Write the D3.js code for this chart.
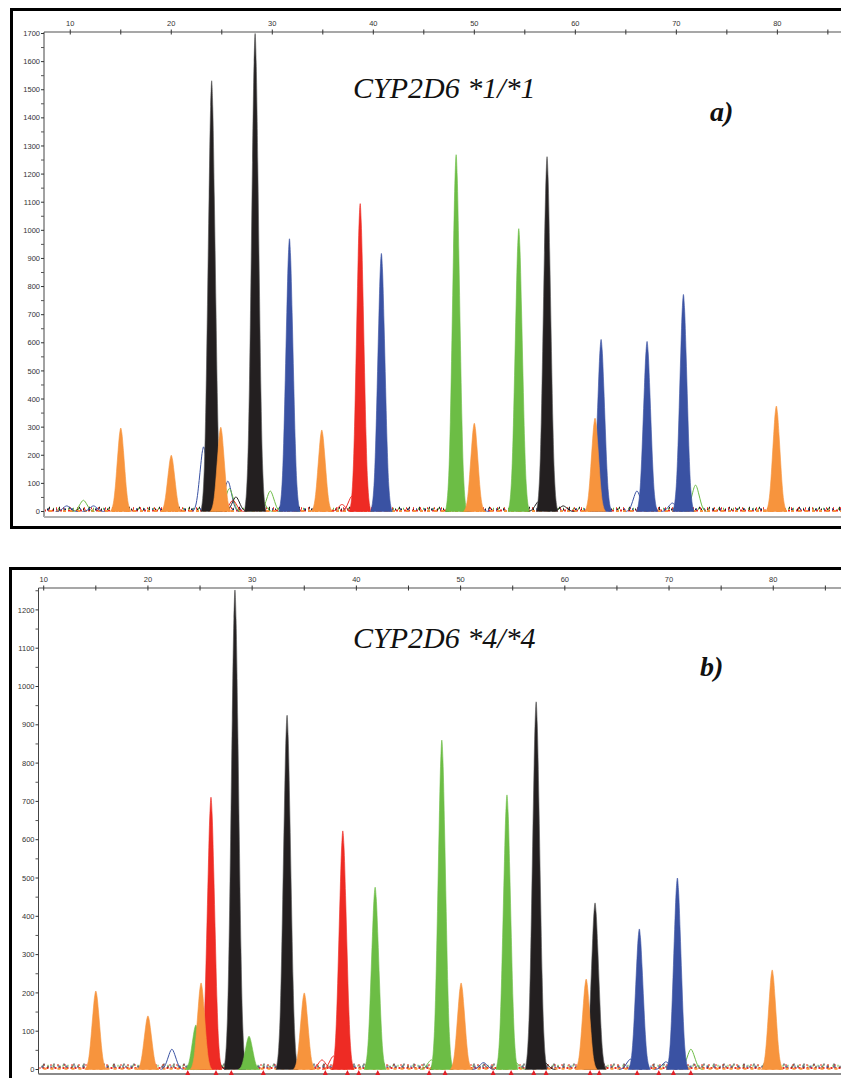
<!DOCTYPE html>
<html>
<head>
<meta charset="utf-8">
<script src="https://cdn.jsdelivr.net/npm/d3@7"></script>
<style>
  body { margin: 0; background: #fff; }
  svg { display: block; }
</style>
</head>
<body>
<div id="chart"></div>
<script>
// ---- data (fragment size in bp, peak height in RFU) ----
const sizeTicks = [10, 20, 30, 40, 50, 60, 70, 80];

// panel a) CYP2D6 *1/*1 - filled peaks
const peakPosA    = [15.0, 20.0, 24.0, 24.9, 28.3, 31.7, 34.9, 38.7, 40.8, 48.2, 50.0, 54.4, 57.2, 61.95, 62.55, 67.1, 70.7, 79.9];
const peakHeightA = [297, 200, 1532, 300, 1700, 970, 290, 1095, 918, 1269, 314, 1006, 1262, 332, 612, 605, 772, 375];
const peakDyeA    = ["orange", "orange", "black", "orange", "black", "blue", "orange", "red", "blue", "green", "orange", "green", "black", "orange", "blue", "blue", "blue", "orange"];
// panel a) small unfilled peaks
const minorPosA    = [9.65, 11.3, 12.3, 23.2, 25.6, 25.75, 26.1, 26.4, 28.95, 29.8, 31.6, 36.9, 37.9, 40.8, 48.2, 48.3, 50.4, 56.4, 58.8, 66.1, 69.6, 71.9];
const minorHeightA = [20, 40, 20, 230, 108, 82, 40, 52, 40, 73, 30, 25, 55, 50, 40, 35, 20, 37, 20, 73, 30, 94];
const minorDyeA    = ["blue", "green", "blue", "blue", "blue", "green", "red", "black", "green", "green", "green", "red", "red", "green", "green", "black", "blue", "black", "black", "blue", "blue", "green"];
const yTicksA = d3.range(0, 1701, 100);

// panel b) CYP2D6 *4/*4 - filled peaks
const peakPosB    = [15.0, 20.0, 24.6, 25.1, 26.05, 28.35, 29.7, 33.35, 35.0, 38.7, 41.8, 48.2, 50.05, 54.45, 57.25, 62.05, 62.9, 67.15, 70.8, 79.9];
const peakHeightB = [205, 140, 116, 226, 711, 1252, 87, 925, 200, 623, 476, 860, 226, 717, 960, 236, 435, 367, 500, 260];
const peakDyeB    = ["orange", "orange", "green", "orange", "red", "black", "green", "black", "orange", "red", "green", "green", "orange", "green", "black", "orange", "black", "blue", "blue", "orange"];
// panel b) small unfilled peaks
const minorPosB    = [22.3, 24.9, 25.5, 25.8, 26.4, 28.8, 36.7, 37.8, 47.2, 48.2, 52.2, 55.2, 58.0, 66.3, 69.7, 72.1];
const minorHeightB = [53, 105, 99, 80, 46, 48, 25, 35, 25, 20, 18, 20, 20, 27, 20, 53];
const minorDyeB    = ["blue", "black", "blue", "green", "black", "green", "red", "red", "green", "black", "blue", "green", "black", "blue", "blue", "green"];
// panel b) size-standard markers along the baseline
const markerPosB = [23.82, 26.53, 28.0, 31.07, 37.02, 39.14, 40.23, 42.05, 46.98, 48.51, 53.12, 54.85, 57.02, 58.2, 62.43, 63.3, 66.94, 69.02, 70.42, 72.09];
const yTicksB = d3.range(0, 1201, 100);

const dyeColor = {
  orange: "#F7943D",
  black: "#231F20",
  blue: "#3A52A3",
  red: "#EE2B24",
  green: "#6CBD45"
};

// peak glyph: [offset as share of half-width, share of height]
const PEAK_PROFILE = [[-1, 0], [-0.85, 0.03], [-0.7, 0.1], [-0.55, 0.25], [-0.4, 0.48], [-0.25, 0.73], [-0.1, 0.94], [0, 1],
                      [0.1, 0.94], [0.25, 0.73], [0.4, 0.48], [0.55, 0.25], [0.7, 0.1], [0.85, 0.03], [1, 0]];

const W = 841, H = 1078;
const svg = d3.select("#chart").append("svg")
  .attr("width", W).attr("height", H)
  .style("font-family", "Liberation Sans, Arial, sans-serif");

svg.append("rect").attr("width", W).attr("height", H).attr("fill", "#fff");

function drawPanel(p) {
  const g = svg.append("g");

  // frame
  g.append("rect")
    .attr("x", p.frame[0]).attr("y", p.frame[1])
    .attr("width", p.frame[2]).attr("height", p.frame[3])
    .attr("fill", "none").attr("stroke", "#000").attr("stroke-width", 3);

  const x = d3.scaleLinear().domain(p.xDomain).range([p.left, W]);
  const y = d3.scaleLinear().domain([0, p.yMax]).range([p.y0, p.yTop]);

  const clipId = "clip-" + p.name;
  svg.append("clipPath").attr("id", clipId)
    .append("rect").attr("x", p.left + 1).attr("y", p.axisY)
    .attr("width", W - p.left).attr("height", p.bottomY - p.axisY);

  const plot = g.append("g").attr("clip-path", "url(#" + clipId + ")");

  // baseline noise band drawn as mixed dashes
  const noise = [["red", 4, "2,2", 0], ["green", 10, "1,4", 1], ["black", 7, "1,5", 3], ["orange", 2, "3,4", 2], ["blue", 8, "1,7", 4], ["red", 12, "1,6", 2], ["black", 13, "1,9", 5]];
  noise.forEach(n => {
    plot.append("line")
      .attr("x1", p.left).attr("x2", W)
      .attr("y1", y(n[1])).attr("y2", y(n[1]))
      .attr("stroke", dyeColor[n[0]]).attr("stroke-width", 2)
      .attr("stroke-dasharray", n[2]).attr("stroke-dashoffset", n[3]);
  });

  const area = d3.area()
    .x(d => x(d[0])).y0(y(0)).y1(d => y(d[1]))
    .curve(d3.curveCatmullRom);
  const line = d3.line()
    .x(d => x(d[0])).y(d => y(d[1]))
    .curve(d3.curveCatmullRom);

  const shape = (pos, h, hw) => PEAK_PROFILE.map(q => [pos + q[0] * hw, q[1] * h]);

  // unfilled minor peaks
  p.minorPos.forEach((pos, i) => {
    plot.append("path")
      .attr("d", line(shape(pos, p.minorHeight[i], 1.1)))
      .attr("fill", "none")
      .attr("stroke", dyeColor[p.minorDye[i]])
      .attr("stroke-width", 1);
  });

  // filled peaks, orange on top
  const order = d3.range(p.peakPos.length)
    .sort((a, b) => (p.peakDye[a] === "orange") - (p.peakDye[b] === "orange"));
  order.forEach(i => {
    const c = dyeColor[p.peakDye[i]];
    plot.append("path")
      .attr("d", area(shape(p.peakPos[i], p.peakHeight[i], p.halfWidth)))
      .attr("fill", c)
      .attr("stroke", p.peakDye[i] === "black" ? "#555" : c)
      .attr("stroke-width", 0.6);
  });

  // top size axis
  g.append("line")
    .attr("x1", p.axisStart).attr("x2", W)
    .attr("y1", p.axisY).attr("y2", p.axisY)
    .attr("stroke", "#8a8a8a").attr("stroke-width", 1.5);
  const minor = d3.range(15, 86, 10);
  g.selectAll(null).data(sizeTicks.concat(minor)).enter().append("line")
    .attr("x1", d => x(d)).attr("x2", d => x(d))
    .attr("y1", p.axisY - 2.5).attr("y2", p.axisY + 2.5)
    .attr("stroke", "#333").attr("stroke-width", 1);
  g.selectAll(null).data(sizeTicks).enter().append("text")
    .attr("x", d => x(d)).attr("y", p.axisY - 6)
    .attr("text-anchor", "middle")
    .attr("font-size", 7.5).attr("fill", "#333")
    .text(d => d);

  // y axis
  g.append("line")
    .attr("x1", p.left).attr("x2", p.left)
    .attr("y1", p.axisY).attr("y2", p.bottomY)
    .attr("stroke", "#444").attr("stroke-width", 1);
  g.selectAll(null).data(p.yTicks).enter().append("line")
    .attr("x1", p.left - 3).attr("x2", p.left)
    .attr("y1", d => y(d)).attr("y2", d => y(d))
    .attr("stroke", "#333");
  g.selectAll(null).data(p.yTicks.slice(0, -1).map(d => d + 50).concat(p.extraMinor)).enter().append("line")
    .attr("x1", p.left - 3).attr("x2", p.left)
    .attr("y1", d => y(d)).attr("y2", d => y(d))
    .attr("stroke", "#555");
  g.selectAll(null).data(p.yTicks).enter().append("text")
    .attr("x", p.left - 4).attr("y", d => y(d))
    .attr("dy", "0.35em")
    .attr("text-anchor", "end")
    .attr("font-size", 7.5).attr("fill", "#333")
    .text(d => d);

  // bottom line
  g.append("line")
    .attr("x1", p.left).attr("x2", W)
    .attr("y1", p.bottomY).attr("y2", p.bottomY)
    .attr("stroke", p.bottomColor).attr("stroke-width", 2);

  // size-standard markers
  g.selectAll(null).data(p.markers).enter().append("path")
    .attr("d", d => "M" + (x(d) - 2.5) + "," + (p.bottomY + 1) + "L" + x(d) + "," + (p.bottomY - 4) + "L" + (x(d) + 2.5) + "," + (p.bottomY + 1) + "Z")
    .attr("fill", "#E21F26");

  // titles
  g.append("text")
    .attr("x", 353).attr("y", p.titleY)
    .attr("font-family", "Liberation Serif, serif")
    .attr("font-style", "italic").attr("font-size", 30)
    .attr("fill", "#111")
    .text(p.title);
  g.append("text")
    .attr("x", p.tagX).attr("y", p.tagY)
    .attr("font-family", "Liberation Serif, serif")
    .attr("font-style", "italic").attr("font-weight", "bold")
    .attr("font-size", 28).attr("fill", "#111")
    .text(p.tag);
}

drawPanel({
  name: "a",
  frame: [11.5, 9.5, 840, 518],
  xDomain: [7.4, 86.3], left: 44, axisStart: 44,
  yMax: 1700, y0: 511.5, yTop: 33.5,
  axisY: 32, bottomY: 517, bottomColor: "#b0b0b0",
  yTicks: yTicksA, extraMinor: [],
  peakPos: peakPosA, peakHeight: peakHeightA, peakDye: peakDyeA, halfWidth: 1.05,
  minorPos: minorPosA, minorHeight: minorHeightA, minorDye: minorDyeA,
  markers: [],
  title: "CYP2D6 *1/*1", titleY: 98, tag: "a)", tagX: 710, tagY: 121
});

drawPanel({
  name: "b",
  frame: [10.5, 568.5, 840, 520],
  xDomain: [9.5, 86.5], left: 38.5, axisStart: 38.5,
  yMax: 1200, y0: 1069.5, yTop: 609.9,
  axisY: 588, bottomY: 1074, bottomColor: "#8a8a8a",
  yTicks: yTicksB, extraMinor: [1250],
  peakPos: peakPosB, peakHeight: peakHeightB, peakDye: peakDyeB, halfWidth: 1.05,
  minorPos: minorPosB, minorHeight: minorHeightB, minorDye: minorDyeB,
  markers: markerPosB,
  title: "CYP2D6 *4/*4", titleY: 648, tag: "b)", tagX: 700, tagY: 676
});
</script>
</body>
</html>
